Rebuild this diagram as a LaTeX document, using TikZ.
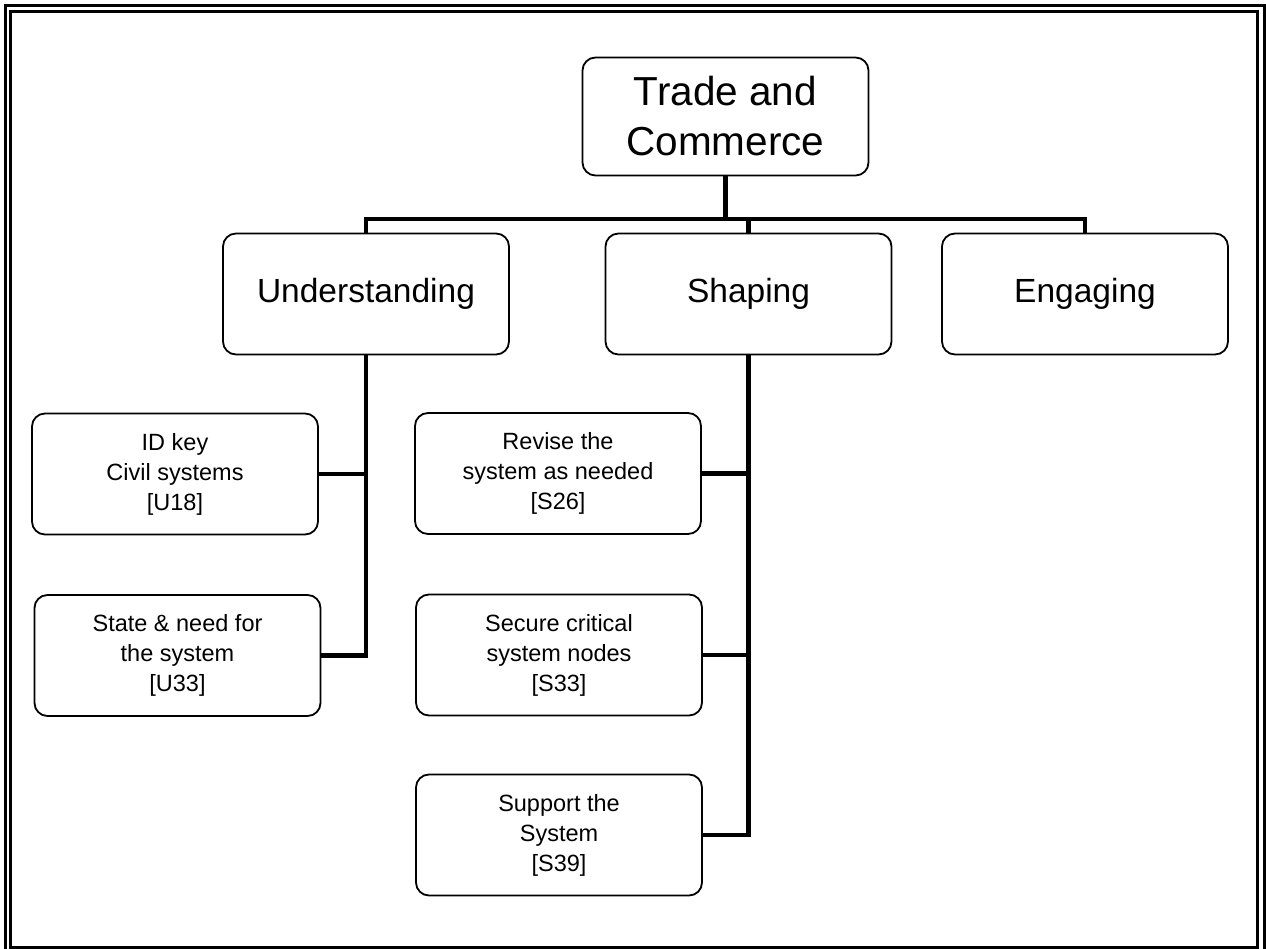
\documentclass[tikz,border=0pt]{standalone}
\usepackage{fontspec}
\setmainfont{Liberation Sans}
\usetikzlibrary{calc}
\tikzset{
  box/.style={draw, line width=1.8pt, rounded corners=13pt, align=center,
    minimum width=286pt, minimum height=121pt, inner sep=0pt,
    font=\fontsize{23.5}{30}\selectfont},
  topbox/.style={box, minimum height=118pt, font=\fontsize{40.5}{50}\selectfont},
  midbox/.style={box, font=\fontsize{33.5}{40}\selectfont},
  conn/.style={line width=4.5pt},
  frame/.style={line width=3pt}
}

\begin{document}
\begin{tikzpicture}[x=1pt,y=-1pt]
			%%%%% START %%%%%
			\useasboundingbox (0,0) rectangle (1266,949);
			\clip (0,0) rectangle (1266,949);
			
			\draw[frame] (5,6) rectangle (1264,953);
			\draw[frame] (10.5,11.5) rectangle (1257.5,947);
			
			\node[topbox] (trade) at (725.5,116.5) {Trade and\\Commerce};
			
			\node[midbox] (under) at (366,294) {Understanding};
			\node[midbox] (shape) at (748.5,294) {Shaping};
			\node[midbox] (engage) at (1085,294) {Engaging};
			
			\node[box] (u18) at (175,474) {ID key\\Civil systems\\{[U18]}};
			\node[box] (u33) at (177.5,655.5) {State \& need for\\the system\\{[U33]}};
			
			\node[box] (s26) at (558,473.5) {Revise the\\system as needed\\{[S26]}};
			\node[box] (s33) at (559,655) {Secure critical\\system nodes\\{[S33]}};
			\node[box] (s39) at (559,835) {Support the\\System\\{[S39]}};
			
			\coordinate (bar) at (0,219);
			\draw[conn] (trade.south) -- (trade.south |- bar);
			\draw[conn] (under.north) |- (engage.north |- bar) -- (engage.north);
			\draw[conn] (shape.north) -- (shape.north |- bar);
			
			\draw[conn] (under.south) |- (u33.east);
			\draw[conn] (u18.east) -- (u18.east -| under.south);
			
			\draw[conn] (shape.south) |- (s39.east);
			\draw[conn] (s26.east) -- (s26.east -| shape.south);
			\draw[conn] (s33.east) -- (s33.east -| shape.south);
			
			%%%%% END %%%%%
\end{tikzpicture}
\end{document}
